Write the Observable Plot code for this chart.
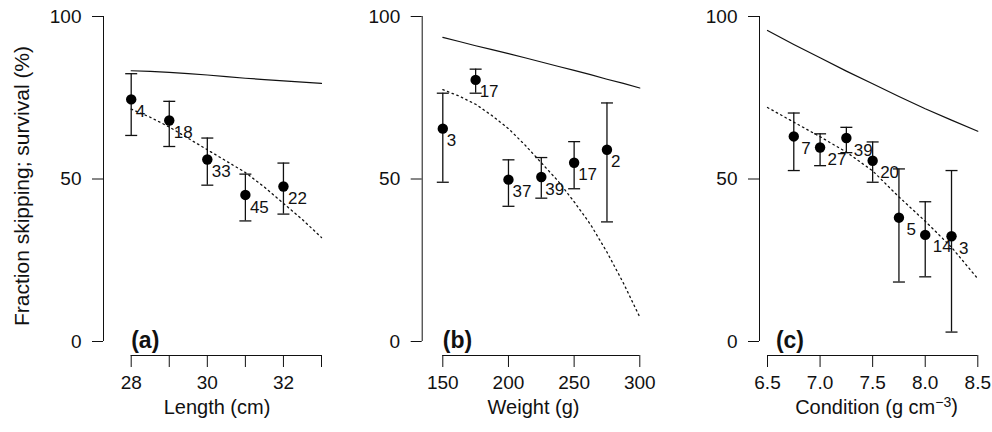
<!DOCTYPE html>
<html><head><meta charset="utf-8">
<script src="https://cdn.jsdelivr.net/npm/d3@7"></script>
<script src="https://cdn.jsdelivr.net/npm/@observablehq/plot@0.6"></script>
<style>
body{margin:0;background:#fff;}
#chart{display:flex;width:992px;height:432px;overflow:hidden;}
#chart svg{font-family:"Liberation Sans",Arial,Helvetica,sans-serif;flex:none;}
</style></head><body><div id="chart"></div>
<script>
// ---------- Panel (a): Length ----------
const lengthX = [28, 29, 30, 31, 32];
const lengthSkip = [74.5, 68.0, 56.0, 45.1, 47.7];
const lengthLo = [63.4, 60.0, 48.1, 37.1, 39.2];
const lengthHi = [82.4, 73.9, 62.6, 51.5, 54.9];
const lengthN = [4, 18, 33, 45, 22];
const lengthCurveX = [28, 28.5, 29, 29.5, 30, 30.5, 31, 31.5, 32, 32.5, 33];
const lengthSurvival = [83.3, 83.1, 82.8, 82.4, 82.0, 81.5, 81.0, 80.6, 80.2, 79.8, 79.4];
const lengthFit = [71.5, 69.0, 66.0, 62.5, 59.0, 55.5, 52.0, 47.5, 42.5, 37.5, 32.0];
const lengthTicks = [28, 29, 30, 31, 32, 33];
const lengthTickLabels = ["28", "", "30", "", "32", ""];

// ---------- Panel (b): Weight ----------
const weightX = [150, 175, 200, 225, 250, 275];
const weightSkip = [65.5, 80.5, 49.8, 50.6, 55.0, 59.0];
const weightLo = [49.0, 76.4, 41.6, 44.1, 47.0, 36.8];
const weightHi = [76.4, 83.8, 55.9, 56.6, 61.5, 73.4];
const weightN = [3, 17, 37, 39, 17, 2];
const weightCurveX = [150, 162.5, 175, 187.5, 200, 212.5, 225, 237.5, 250, 262.5, 275, 287.5, 300];
const weightSurvival = [93.6, 92.3, 91.0, 89.8, 88.6, 87.3, 86.0, 84.7, 83.4, 82.1, 80.7, 79.4, 78.0];
const weightFit = [77.5, 75.5, 73.0, 69.5, 65.5, 60.5, 55.0, 49.5, 43.0, 36.0, 27.5, 18.0, 7.5];
const weightTicks = [150, 200, 250, 300];
const weightTickLabels = ["150", "200", "250", "300"];

// ---------- Panel (c): Condition ----------
const condX = [6.75, 7.0, 7.25, 7.5, 7.75, 8.0, 8.25];
const condSkip = [63.1, 59.7, 62.6, 55.6, 38.1, 32.8, 32.4];
const condLo = [52.6, 54.1, 58.1, 49.0, 18.3, 19.9, 2.9];
const condHi = [70.3, 63.9, 65.9, 61.4, 53.1, 43.0, 52.6];
const condN = [7, 27, 39, 20, 5, 14, 3];
const condCurveX = [6.5, 6.75, 7.0, 7.25, 7.5, 7.75, 8.0, 8.25, 8.5];
const condSurvival = [95.7, 91.4, 87.3, 83.2, 79.3, 75.4, 71.6, 68.1, 64.7];
const condFit = [72.0, 67.5, 63.0, 58.3, 52.5, 44.5, 37.0, 29.0, 19.3];
const condTicks = [6.5, 7.0, 7.5, 8.0, 8.5];
const condTickLabels = ["6.5", "7.0", "7.5", "8.0", "8.5"];

const yTicks = [0, 50, 100];
const yTitle = "Fraction skipping; survival (%)";
const xTitles = ["Length (cm)", "Weight (g)", "Condition (g cm\u22123)"];
const panelTags = ["(a)", "(b)", "(c)"];
const panelTagX = [28, 150, 6.58];

// layout (pixels)
const H = 432;
const layouts = [
  {width: 330, marginLeft: 103, xRange: [130.7, 321], titleDx: 113.5, labelDx: 4.5, yTitle: true},
  {width: 331, marginLeft: 91.7, xRange: [112.3, 309.3], titleDx: 111.3, labelDx: 4, yTitle: false},
  {width: 331, marginLeft: 98, xRange: [106, 316.3], titleDx: 117, labelDx: 7.5, yTitle: false}
];

const capSymbol = {
  draw(context, size) {
    const w = Math.sqrt(size / Math.PI);
    context.moveTo(-w, 0);
    context.lineTo(w, 0);
  }
};

const INK = "#111";

function makePanel(i, xs, skip, lo, hi, n, cx, surv, fit, ticks, tickLabels) {
  const L = layouts[i];
  const pts = xs.map((x, j) => ({x, y: skip[j], lo: lo[j], hi: hi[j], n: n[j]}));
  const curve = cx.map((x, j) => ({x, s: surv[j], f: fit[j]}));
  const labelOf = new Map(ticks.map((t, j) => [t, tickLabels[j]]));
  const marks = [
    // axes lines
    Plot.ruleX([ticks[0]], {y1: yTicks[0], y2: yTicks[yTicks.length - 1], dx: L.marginLeft - L.xRange[0], stroke: INK, strokeWidth: 1}),
    Plot.ruleY([0], {x1: ticks[0], x2: ticks[ticks.length - 1], dy: 14, stroke: INK, strokeWidth: 1}),
    Plot.axisY({ticks: yTicks, tickSize: 11, tickPadding: 11, fontSize: 19, label: null, stroke: INK, fill: INK}),
    Plot.axisX({ticks, tickFormat: d => labelOf.get(d), tickSize: 12, tickPadding: 8, fontSize: 19, label: null, stroke: INK, fill: INK}),
    // curves
    Plot.line(curve, {x: "x", y: "s", stroke: INK, strokeWidth: 1.2}),
    Plot.line(curve, {x: "x", y: "f", stroke: INK, strokeWidth: 1.3, strokeDasharray: "1.5,3.5"}),
    // error bars
    Plot.ruleX(pts, {x: "x", y1: "lo", y2: "hi", stroke: INK, strokeWidth: 1.3}),
    Plot.dot(pts, {x: "x", y: "lo", symbol: capSymbol, r: 6, stroke: INK, strokeWidth: 1.3, fill: "none"}),
    Plot.dot(pts, {x: "x", y: "hi", symbol: capSymbol, r: 6, stroke: INK, strokeWidth: 1.3, fill: "none"}),
    // points
    Plot.dot(pts, {x: "x", y: "y", r: 5.2, fill: "#000", stroke: "none"}),
    // sample sizes
    Plot.text(pts, {x: "x", y: "y", text: d => String(d.n), textAnchor: "start", lineAnchor: "top", dx: L.labelDx, dy: 5.5, fontSize: 17, fill: INK}),
    // panel tag
    Plot.text([panelTags[i]], {x: panelTagX[i], y: 0, text: d => d, textAnchor: "start", lineAnchor: "bottom", dy: 6.5, fontSize: 23, fontWeight: "bold", fill: INK}),
    // x title
    Plot.text([xTitles[i]], {frameAnchor: "bottom-left", text: d => d, textAnchor: "middle", dx: L.titleDx, dy: 58, fontSize: 20, fill: INK})
  ];
  if (L.yTitle) {
    marks.push(Plot.text([yTitle], {frameAnchor: "left", text: d => d, rotate: -90, textAnchor: "middle", dx: -81, fontSize: 21, fill: INK}));
  }
  return Plot.plot({
    width: L.width,
    height: H,
    marginLeft: L.marginLeft,
    marginRight: 0,
    marginTop: 16,
    marginBottom: 77,
    x: {domain: [ticks[0], ticks[ticks.length - 1]], range: L.xRange},
    y: {domain: [yTicks[0], yTicks[yTicks.length - 1]], range: [341, 16]},
    style: {fontFamily: '"Liberation Sans", Arial, Helvetica, sans-serif', background: "#fff", color: INK},
    marks
  });
}

const root = document.getElementById("chart");
root.append(makePanel(0, lengthX, lengthSkip, lengthLo, lengthHi, lengthN, lengthCurveX, lengthSurvival, lengthFit, lengthTicks, lengthTickLabels));
root.append(makePanel(1, weightX, weightSkip, weightLo, weightHi, weightN, weightCurveX, weightSurvival, weightFit, weightTicks, weightTickLabels));
root.append(makePanel(2, condX, condSkip, condLo, condHi, condN, condCurveX, condSurvival, condFit, condTicks, condTickLabels));

// superscript for the condition unit
root.querySelectorAll("text").forEach(t => {
  if (t.textContent === xTitles[2]) {
    t.textContent = "";
    const ns = "http://www.w3.org/2000/svg";
    const a = document.createElementNS(ns, "tspan"); a.textContent = "Condition (g cm";
    const b = document.createElementNS(ns, "tspan"); b.textContent = "\u22123"; b.setAttribute("dy", "-0.45em"); b.setAttribute("font-size", "0.7em");
    const c = document.createElementNS(ns, "tspan"); c.textContent = ")"; c.setAttribute("dy", "0.3em");
    t.append(a, b, c);
  }
});
</script>
</body></html>
